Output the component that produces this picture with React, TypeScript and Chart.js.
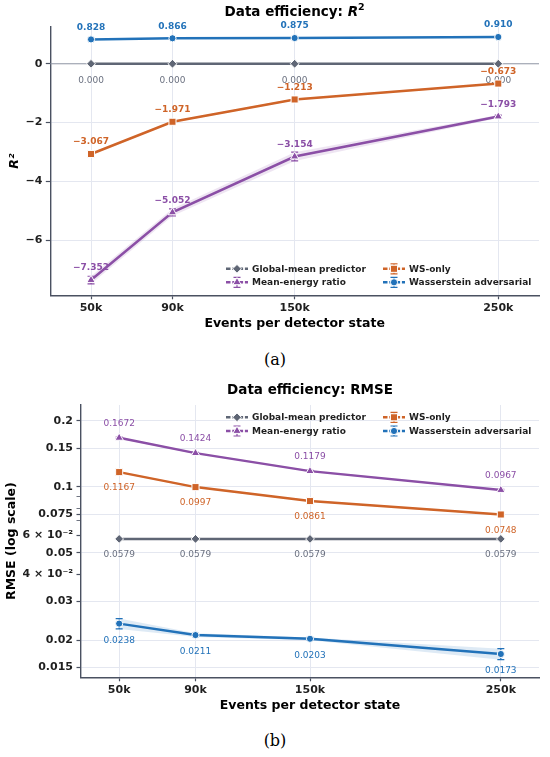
import { useEffect, useRef } from 'react';
import Chart from 'chart.js/auto';

const FONT = '"DejaVu Sans", sans-serif';

// x positions: events per detector state (thousands)
const eventsK = [50, 90, 150, 250];

// panel (a): R^2
const r2Global = [0, 0, 0, 0];
const r2MeanEnergy = [-7.352, -5.052, -3.154, -1.793];
const r2MeanEnergyErr = [0.13, 0.12, 0.15, 0.05];
const r2WsOnly = [-3.067, -1.971, -1.213, -0.673];
const r2WsOnlyErr = [0.03, 0.03, 0.03, 0.03];
const r2Wasserstein = [0.828, 0.866, 0.875, 0.91];
const r2WassersteinErr = [0.01, 0.01, 0.01, 0.01];
const r2Ticks = [-6, -4, -2, 0];

// panel (b): RMSE, log scale
const rmseGlobal = [0.0579, 0.0579, 0.0579, 0.0579];
const rmseMeanEnergy = [0.1672, 0.1424, 0.1179, 0.0967];
const rmseMeanEnergyErr = [0.0015, 0.0012, 0.001, 0.0008];
const rmseWsOnly = [0.1167, 0.0997, 0.0861, 0.0748];
const rmseWsOnlyErr = [0.001, 0.0008, 0.0007, 0.0006];
const rmseWasserstein = [0.0238, 0.0211, 0.0203, 0.0173];
const rmseWassersteinErr = [0.0013, 0.0004, 0.0003, 0.001];
const rmseTicks = [0.2, 0.15, 0.1, 0.09, 0.08, 0.075, 0.07, 0.06, 0.05, 0.04, 0.03, 0.02, 0.015];
const rmseTickLabels = ['0.2', '0.15', '0.1', '', '', '0.075', '', '6 × 10⁻²', '0.05', '4 × 10⁻²', '0.03', '0.02', '0.015'];
const rmseGridTicks = [0.2, 0.15, 0.1, 0.075, 0.05, 0.03, 0.02, 0.015];

const C = {
  grey: '#5f6675',
  greyText: '#6b7180',
  purple: '#8b4fa6',
  orange: '#cf6428',
  blue: '#2272b9',
  spine: '#4a5161',
  grid: '#e4e7f0',
  text: '#1f1f1f',
};

const withAlpha = (hex: string, a: number) => {
  const n = parseInt(hex.slice(1), 16);
  return `rgba(${(n >> 16) & 255},${(n >> 8) & 255},${n & 255},${a})`;
};

const fmtVal = (v: number, d: number) => (v < 0 ? '−' + Math.abs(v).toFixed(d) : v.toFixed(d));

const series = (
  label: string,
  values: number[],
  err: number[] | null,
  color: string,
  style: string,
  radius: number,
  labelDy: number,
  labelColor: string,
  labelWeight: string,
  band: boolean,
) => ({
  label,
  data: eventsK.map((x, i) => ({ x, y: values[i] })),
  err,
  band,
  labelDy,
  labelColor,
  labelWeight,
  markerStyle: style,
  borderColor: color,
  backgroundColor: color,
  borderWidth: 2.5,
  tension: 0,
  pointStyle: style,
  pointRadius: radius,
  pointHoverRadius: radius,
  pointBackgroundColor: color,
  pointBorderColor: '#ffffff',
  pointBorderWidth: 1,
});

function drawMarker(ctx: CanvasRenderingContext2D, style: string, x: number, y: number, r: number, color: string) {
  ctx.beginPath();
  if (style === 'circle') {
    ctx.arc(x, y, r, 0, Math.PI * 2);
  } else if (style === 'rect') {
    const s = r * Math.SQRT1_2;
    ctx.rect(x - s, y - s, 2 * s, 2 * s);
  } else if (style === 'rectRot') {
    ctx.moveTo(x, y - r);
    ctx.lineTo(x + r, y);
    ctx.lineTo(x, y + r);
    ctx.lineTo(x - r, y);
    ctx.closePath();
  } else {
    ctx.moveTo(x, y - r);
    ctx.lineTo(x + r * 0.866, y + r * 0.5);
    ctx.lineTo(x - r * 0.866, y + r * 0.5);
    ctx.closePath();
  }
  ctx.fillStyle = color;
  ctx.fill();
  ctx.strokeStyle = '#ffffff';
  ctx.lineWidth = 1;
  ctx.stroke();
}

const decorPlugin = {
  id: 'decor',
  beforeDatasetsDraw(chart: any, _args: any, o: any) {
    const { ctx, chartArea: ca, scales } = chart;
    const xs = scales.x;
    const ys = scales.y;
    ctx.save();
    if (o.zeroLine) {
      const py = ys.getPixelForValue(0);
      ctx.strokeStyle = '#8d94a3';
      ctx.lineWidth = 1;
      ctx.beginPath();
      ctx.moveTo(ca.left, py);
      ctx.lineTo(ca.right, py);
      ctx.stroke();
    }
    chart.data.datasets.forEach((ds: any) => {
      if (!ds.err) return;
      const pts = ds.data.map((p: any, i: number) => ({
        px: xs.getPixelForValue(p.x),
        hi: ys.getPixelForValue(p.y + ds.err[i]),
        lo: ys.getPixelForValue(p.y - ds.err[i]),
      }));
      if (ds.band) {
        ctx.beginPath();
        pts.forEach((p: any, i: number) => (i ? ctx.lineTo(p.px, p.hi) : ctx.moveTo(p.px, p.hi)));
        for (let i = pts.length - 1; i >= 0; i--) ctx.lineTo(pts[i].px, pts[i].lo);
        ctx.closePath();
        ctx.fillStyle = withAlpha(ds.borderColor, 0.15);
        ctx.fill();
      }
      ctx.strokeStyle = ds.borderColor;
      ctx.lineWidth = 1.2;
      pts.forEach((p: any) => {
        ctx.beginPath();
        ctx.moveTo(p.px, p.hi);
        ctx.lineTo(p.px, p.lo);
        ctx.moveTo(p.px - 3.5, p.hi);
        ctx.lineTo(p.px + 3.5, p.hi);
        ctx.moveTo(p.px - 3.5, p.lo);
        ctx.lineTo(p.px + 3.5, p.lo);
        ctx.stroke();
      });
    });
    // value annotations
    ctx.textAlign = 'center';
    ctx.textBaseline = 'middle';
    chart.data.datasets.forEach((ds: any) => {
      ctx.font = `${ds.labelWeight} ${o.labelSize}px ${FONT}`;
      ctx.fillStyle = ds.labelColor;
      ds.data.forEach((p: any) => {
        ctx.fillText(fmtVal(p.y, o.decimals), xs.getPixelForValue(p.x), ys.getPixelForValue(p.y) + ds.labelDy);
      });
    });
    ctx.restore();
  },
  afterDraw(chart: any, _args: any, o: any) {
    const { ctx, chartArea: ca } = chart;
    ctx.save();
    // title, centred on the plot area
    const parts = o.title || [];
    let total = 0;
    parts.forEach((p: any) => {
      ctx.font = p.font;
      total += ctx.measureText(p.text).width;
    });
    let tx = (ca.left + ca.right) / 2 - total / 2;
    ctx.textAlign = 'left';
    ctx.textBaseline = 'middle';
    ctx.fillStyle = '#000000';
    parts.forEach((p: any) => {
      ctx.font = p.font;
      ctx.fillText(p.text, tx, o.titleY + (p.dy || 0));
      tx += ctx.measureText(p.text).width;
    });
    // legend, two columns filled column by column
    const rows = o.legendTop ? [ca.top + 12.3, ca.top + 26] : [ca.bottom - 26.5, ca.bottom - 13];
    const cols = [ca.right - 287, ca.right - 130];
    ctx.font = `bold 9px ${FONT}`;
    chart.data.datasets.forEach((ds: any, i: number) => {
      const tx0 = cols[Math.floor(i / 2)];
      const ty = rows[i % 2];
      const hx = tx0 - 26;
      const cx = hx + 11;
      ctx.strokeStyle = ds.borderColor;
      ctx.lineWidth = 2.5;
      ctx.setLineDash([4.5, 1.8]);
      ctx.beginPath();
      ctx.moveTo(hx, ty);
      ctx.lineTo(hx + 22, ty);
      ctx.stroke();
      ctx.setLineDash([]);
      if (ds.err) {
        ctx.lineWidth = 1.2;
        ctx.beginPath();
        ctx.moveTo(cx, ty - 5);
        ctx.lineTo(cx, ty + 5);
        ctx.moveTo(cx - 3.5, ty - 5);
        ctx.lineTo(cx + 3.5, ty - 5);
        ctx.moveTo(cx - 3.5, ty + 5);
        ctx.lineTo(cx + 3.5, ty + 5);
        ctx.stroke();
      }
      drawMarker(ctx, ds.markerStyle, cx, ty, ds.pointRadius, ds.borderColor);
      ctx.fillStyle = C.text;
      ctx.textAlign = 'left';
      ctx.textBaseline = 'middle';
      ctx.fillText(ds.label, tx0, ty + 0.5);
    });
    ctx.restore();
  },
};

const xAxis = () => ({
  type: 'linear',
  min: 30,
  max: 270,
  afterBuildTicks: (s: any) => {
    s.ticks = eventsK.map((v) => ({ value: v }));
  },
  ticks: {
    autoSkip: false,
    maxRotation: 0,
    padding: 2,
    color: C.text,
    font: { family: FONT, size: 11, weight: 'bold' },
    callback: (v: any) => `${v}k`,
  },
  grid: { color: C.grid, lineWidth: 1, tickColor: C.spine, tickLength: 4, tickWidth: 1.2 },
  border: { color: C.spine, width: 1.4 },
  title: {
    display: true,
    text: 'Events per detector state',
    color: '#000000',
    font: { family: FONT, size: 12.5, weight: 'bold' },
    padding: { top: 0, bottom: 1.5 },
  },
});

const buildR2 = () => ({
  type: 'line',
  data: {
    datasets: [
      series('Global-mean predictor', r2Global, null, C.grey, 'rectRot', 4.4, 16.5, C.greyText, 'normal', false),
      series('Mean-energy ratio', r2MeanEnergy, r2MeanEnergyErr, C.purple, 'triangle', 4.8, -12, C.purple, 'bold', true),
      series('WS-only', r2WsOnly, r2WsOnlyErr, C.orange, 'rect', 5, -12, C.orange, 'bold', true),
      series('Wasserstein adversarial', r2Wasserstein, r2WassersteinErr, C.blue, 'circle', 3.6, -12, C.blue, 'bold', true),
    ],
  },
  plugins: [decorPlugin],
  options: {
    animation: false,
    responsive: true,
    maintainAspectRatio: false,
    layout: { padding: { top: 27, right: 11, left: 0, bottom: 0 } },
    plugins: {
      legend: { display: false },
      title: { display: false },
      tooltip: { enabled: false },
      decor: {
        zeroLine: true,
        decimals: 3,
        labelSize: 9,
        legendTop: false,
        titleY: 12.5,
        title: [
          { text: 'Data efficiency: ', font: `bold 13.5px ${FONT}` },
          { text: 'R', font: `italic bold 13.5px ${FONT}` },
          { text: '2', font: `bold 9.5px ${FONT}`, dy: -5 },
        ],
      },
    },
    scales: {
      x: xAxis(),
      y: {
        type: 'linear',
        min: -7.87,
        max: 1.25,
        afterBuildTicks: (s: any) => {
          s.ticks = r2Ticks.map((v) => ({ value: v }));
        },
        afterFit: (s: any) => {
          s.width = 50.3;
        },
        ticks: {
          autoSkip: false,
          padding: 3.5,
          color: C.text,
          font: { family: FONT, size: 11, weight: 'bold' },
          callback: (v: any) => (v < 0 ? '−' + Math.abs(v) : String(v)),
        },
        grid: {
          color: (c: any) => (c.tick && c.tick.value === 0 ? 'rgba(0,0,0,0)' : C.grid),
          lineWidth: 1,
          tickColor: C.spine,
          tickLength: 4.5,
          tickWidth: 1.2,
        },
        border: { color: C.spine, width: 1.4 },
        title: {
          display: true,
          text: 'R²',
          color: '#000000',
          font: { family: FONT, size: 12.5, weight: 'bold', style: 'italic' },
          padding: { top: 7.3, bottom: 0 },
        },
      },
    },
  },
});

const buildRmse = () => ({
  type: 'line',
  data: {
    datasets: [
      series('Global-mean predictor', rmseGlobal, null, C.grey, 'rectRot', 4.4, 16, C.greyText, 'normal', false),
      series('Mean-energy ratio', rmseMeanEnergy, rmseMeanEnergyErr, C.purple, 'triangle', 4.8, -14, C.purple, 'normal', true),
      series('WS-only', rmseWsOnly, rmseWsOnlyErr, C.orange, 'rect', 5, 16, C.orange, 'normal', true),
      series('Wasserstein adversarial', rmseWasserstein, rmseWassersteinErr, C.blue, 'circle', 3.6, 17, C.blue, 'normal', true),
    ],
  },
  plugins: [decorPlugin],
  options: {
    animation: false,
    responsive: true,
    maintainAspectRatio: false,
    layout: { padding: { top: 27, right: 11, left: 0, bottom: 0 } },
    plugins: {
      legend: { display: false },
      title: { display: false },
      tooltip: { enabled: false },
      decor: {
        zeroLine: false,
        decimals: 4,
        labelSize: 9,
        legendTop: true,
        titleY: 12.5,
        title: [{ text: 'Data efficiency: RMSE', font: `bold 13.5px ${FONT}` }],
      },
    },
    scales: {
      x: xAxis(),
      y: {
        type: 'logarithmic',
        min: 0.01355,
        max: 0.236,
        afterBuildTicks: (s: any) => {
          s.ticks = rmseTicks.map((v) => ({ value: v }));
        },
        afterFit: (s: any) => {
          s.width = 81;
        },
        ticks: {
          autoSkip: false,
          padding: 3.5,
          color: C.text,
          font: { family: FONT, size: 11, weight: 'bold' },
          callback: (v: any) => {
            const i = rmseTicks.indexOf(v);
            return i >= 0 ? rmseTickLabels[i] : '';
          },
        },
        grid: {
          color: (c: any) => (c.tick && rmseGridTicks.includes(c.tick.value) ? C.grid : 'rgba(0,0,0,0)'),
          lineWidth: 1,
          tickColor: C.spine,
          tickLength: 4.5,
          tickWidth: (c: any) => (c.tick && rmseTickLabels[rmseTicks.indexOf(c.tick.value)] ? 1.2 : 0.8),
        },
        border: { color: C.spine, width: 1.4 },
        title: {
          display: true,
          text: 'RMSE (log scale)',
          color: '#000000',
          font: { family: FONT, size: 12.5, weight: 'bold' },
          padding: { top: 4.2, bottom: 0 },
        },
      },
    },
  },
});

const PlotCanvas = ({ build, top, height }: { build: () => any; top: number; height: number }) => {
  const canvasRef = useRef<HTMLCanvasElement | null>(null);

  useEffect(() => {
    if (!canvasRef.current) return;
    const chart = new Chart(canvasRef.current, build());
    return () => chart.destroy();
  }, [build]);

  return (
    <div style={{ position: 'absolute', left: 0, top, width: 550, height }}>
      <canvas ref={canvasRef} />
    </div>
  );
};

const captionStyle = (top: number) => ({
  position: 'absolute' as const,
  left: 0,
  top,
  width: 550,
  textAlign: 'center' as const,
  fontFamily: '"DejaVu Serif", serif',
  fontSize: 16,
  lineHeight: '20px',
  color: '#000000',
});

export default function App() {
  return (
    <div style={{ position: 'fixed', left: 0, top: 0, width: 550, height: 757, background: '#ffffff' }}>
      <PlotCanvas build={buildR2} top={0} height={333} />
      <div style={captionStyle(350)}>(a)</div>
      <PlotCanvas build={buildRmse} top={378} height={337} />
      <div style={captionStyle(731)}>(b)</div>
    </div>
  );
}
